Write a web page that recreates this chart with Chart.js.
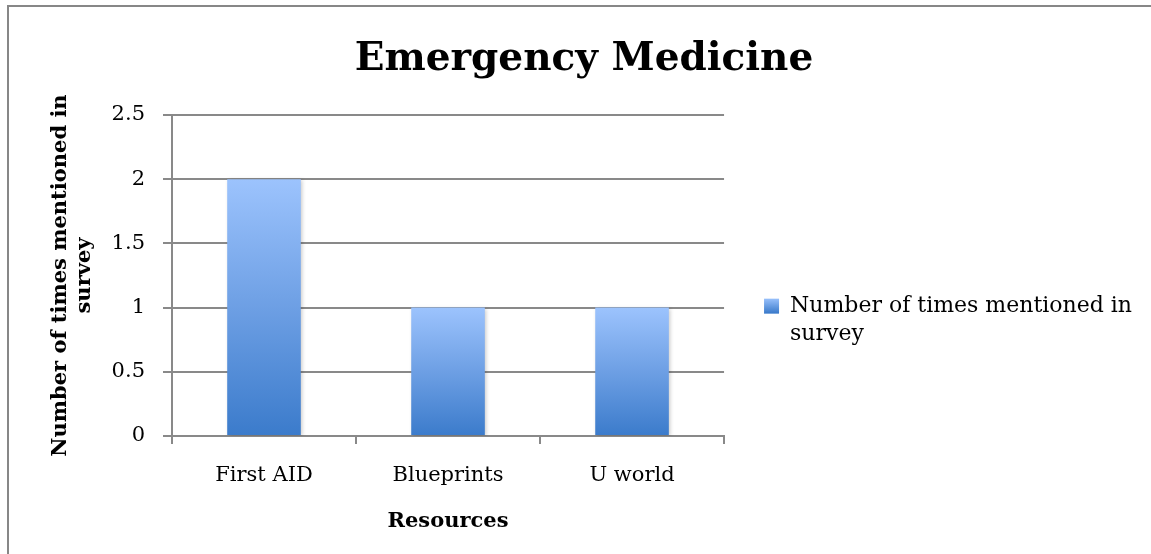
<!DOCTYPE html>
<html><head><meta charset="utf-8">
<script src="https://cdn.jsdelivr.net/npm/chart.js@4/dist/chart.umd.min.js"></script>
<style>
html,body{margin:0;padding:0;background:#fff;width:1151px;height:554px;overflow:hidden;}
#frame{position:absolute;left:7px;top:5px;width:1300px;height:700px;border-top:2px solid #878787;border-left:2px solid #878787;}
#wrap{position:absolute;left:0;top:0;width:1151px;height:554px;}
</style></head><body>
<div id="frame"></div>
<div id="wrap"><canvas id="c"></canvas></div>
<script>
const chartTitle = 'Emergency Medicine';
const categories = ['First AID', 'Blueprints', 'U world'];
const seriesName = 'Number of times mentioned in survey';
const legendLines = ['Number of times mentioned in', 'survey'];
const values = [2, 1, 1];
const yTicks = [0, 0.5, 1, 1.5, 2, 2.5];
const xTitle = 'Resources';
const yTitleLines = ['Number of times mentioned in', 'survey'];

const FONT = 'DejaVu Serif';
const GRID = '#898989';
const TOP_COLOR = '#9cc3fd';
const BOTTOM_COLOR = '#3b7bcb';
const PAD_L = 26;

function barGradient(ctx) {
  const chart = ctx.chart;
  const area = chart.chartArea;
  if (!area || ctx.type !== 'data') return '#6a9ee4';
  const y = chart.scales.y;
  const top = y.getPixelForValue(ctx.parsed.y);
  const bottom = y.getPixelForValue(0);
  const g = chart.ctx.createLinearGradient(0, top, 0, bottom);
  g.addColorStop(0, TOP_COLOR);
  g.addColorStop(0.5, '#6d9fe4');
  g.addColorStop(1, BOTTOM_COLOR);
  return g;
}

const shadowPlugin = {
  id: 'barShadow',
  beforeDatasetsDraw(chart) {
    const c = chart.ctx;
    c.save();
    c.shadowColor = 'rgba(0,0,0,0.22)';
    c.shadowBlur = 4;
    c.shadowOffsetX = 1.5;
    c.shadowOffsetY = 1;
  },
  afterDatasetsDraw(chart) { chart.ctx.restore(); }
};

Chart.defaults.font.family = FONT;
Chart.defaults.color = '#000';

new Chart(document.getElementById('c'), {
  type: 'bar',
  data: {
    labels: categories,
    datasets: [{
      label: seriesName,
      data: values,
      backgroundColor: barGradient,
      borderWidth: 0,
      barPercentage: 0.4,
      categoryPercentage: 1
    }]
  },
  options: {
    responsive: true,
    maintainAspectRatio: false,
    animation: false,
    devicePixelRatio: 1,
    layout: { padding: { left: PAD_L, right: 9, top: 0, bottom: 0 } },
    plugins: {
      title: {
        display: true,
        text: chartTitle,
        color: '#000',
        font: { family: FONT, size: 39, weight: 'bold', lineHeight: 1.2 },
        padding: { top: 36, bottom: 32.2 }
      },
      legend: {
        position: 'right',
        align: 'center',
        fullSize: false,
        maxWidth: 600,
        title: { display: true, text: '', font: { size: 1 }, padding: { top: 94, bottom: 0 } },
        labels: {
          boxWidth: 15,
          boxHeight: 15,
          padding: 40,
          color: '#000',
          font: { family: FONT, size: 22, lineHeight: 1.27 },
          generateLabels(chart) {
            const g = chart.ctx.createLinearGradient(0, 298, 0, 313);
            g.addColorStop(0, TOP_COLOR);
            g.addColorStop(1, BOTTOM_COLOR);
            return [{ text: legendLines, fillStyle: g, strokeStyle: 'rgba(0,0,0,0)', lineWidth: 0, hidden: false, datasetIndex: 0 }];
          }
        }
      },
      tooltip: { enabled: false }
    },
    scales: {
      x: {
        offset: true,
        grid: { offset: true, drawOnChartArea: false, drawTicks: true, tickLength: 8, color: GRID, lineWidth: 2 },
        border: { display: true, color: GRID, width: 2 },
        ticks: { color: '#000', font: { family: FONT, size: 21 }, padding: 19 },
        title: { display: true, text: xTitle, color: '#000', font: { family: FONT, size: 21, weight: 'bold', lineHeight: 1.2 }, padding: { top: 0, bottom: 20 } },
        afterFit(s) { s.height = 118; }
      },
      y: {
        min: 0,
        max: 2.5,
        afterBuildTicks(s) { s.ticks = yTicks.map(v => ({ value: v })); },
        grid: { color: GRID, lineWidth: 2, tickLength: 9, drawTicks: true },
        border: { display: true, color: GRID, width: 2 },
        ticks: { color: '#000', font: { family: FONT, size: 21 }, padding: 18, callback: (v) => String(v) },
        title: { display: true, text: yTitleLines, color: '#000', font: { family: FONT, size: 21, weight: 'bold', lineHeight: 1.15 }, padding: { top: 48 - PAD_L, bottom: 0 } },
        afterFit(s) { s.width = 172 - PAD_L; }
      }
    }
  },
  plugins: [shadowPlugin]
});
</script>
</body></html>
